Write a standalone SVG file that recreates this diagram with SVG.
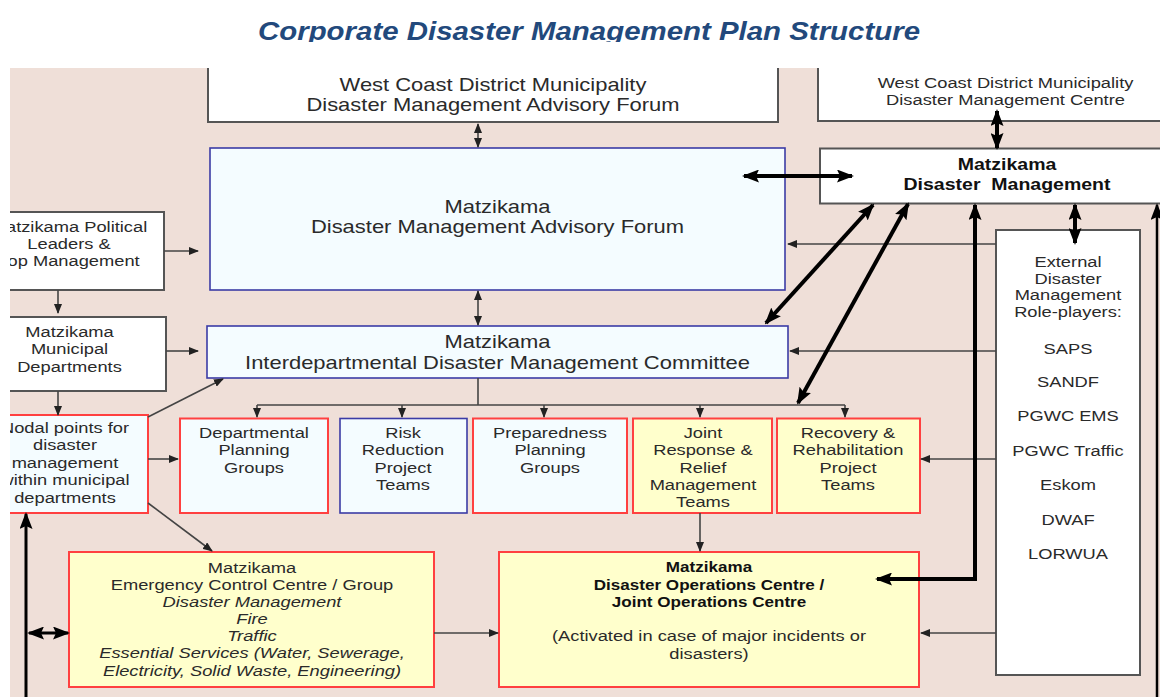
<svg xmlns="http://www.w3.org/2000/svg" width="1160" height="697" viewBox="0 0 1160 697">
<defs>
<style>
.t{font-family:"Liberation Sans",Arial,sans-serif;fill:#2a2a2a;text-anchor:middle}
.s18{font-size:18px}.s16{font-size:16px}.s15{font-size:15px}.s14{font-size:14px}
.b{font-weight:bold;fill:#111}.i{font-style:italic}
.wb{fill:#fff;stroke:#555;stroke-width:2}
.cb{fill:#f4fcff;stroke:#3b3ba6;stroke-width:1.6}
.cr{fill:#f4fcff;stroke:#ff4040;stroke-width:2}
.yr{fill:#ffffcc;stroke:#ff4040;stroke-width:2}
.thin{fill:none;stroke:#444;stroke-width:1.6}
.thick{fill:none;stroke:#000;stroke-width:4}
</style>
<marker id="a" viewBox="0 0 10 8" refX="9" refY="4" markerWidth="10" markerHeight="8" markerUnits="userSpaceOnUse" orient="auto-start-reverse"><path d="M0,0 L10,4 L0,8 z" fill="#222"/></marker>
<marker id="A" viewBox="0 0 17 13" refX="15" refY="6.5" markerWidth="17" markerHeight="13" markerUnits="userSpaceOnUse" orient="auto-start-reverse"><path d="M0,0 L17,6.5 L0,13 L3,6.5 z" fill="#000"/></marker>
<clipPath id="panel"><rect x="10" y="68" width="1150" height="629"/></clipPath>
<clipPath id="tclip"><rect x="0" y="0" width="1160" height="42"/></clipPath>
</defs>
<rect width="1160" height="697" fill="#fff"/>
<g clip-path="url(#tclip)">
<text x="589" y="40" textLength="662" lengthAdjust="spacingAndGlyphs" style="font-family:'Liberation Sans',Arial,sans-serif;font-size:26px;font-weight:bold;font-style:italic;fill:#22497c;text-anchor:middle">Corporate Disaster Management Plan Structure</text>
</g>
<g clip-path="url(#panel)">
<rect x="10" y="68" width="1150" height="629" fill="#efdfd8"/>

<g id="wcd-forum">
<rect class="wb" x="208" y="40" width="570" height="82"/>
<text class="t s18" transform="translate(493 0) scale(1.22 1)"><tspan x="0" y="91">West Coast District Municipality</tspan><tspan x="0" y="111">Disaster Management Advisory Forum</tspan></text>
</g>
<g id="wcd-centre">
<rect class="wb" x="818" y="40" width="400" height="81"/>
<text class="t s15" transform="translate(1005.5 0) scale(1.22 1)"><tspan x="0" y="88">West Coast District Municipality</tspan><tspan x="0" y="105">Disaster Management Centre</tspan></text>
</g>
<g id="matzikama-dm">
<rect class="wb" x="820" y="148.5" width="400" height="55"/>
<text class="t s16 b" xml:space="preserve" transform="translate(1007 0) scale(1.22 1)"><tspan x="0" y="170">Matzikama</tspan><tspan x="0" y="190">Disaster  Management</tspan></text>
</g>
<g id="advisory-forum">
<rect class="cb" x="210" y="148" width="575" height="142"/>
<text class="t s18" transform="translate(497.5 0) scale(1.22 1)"><tspan x="0" y="213">Matzikama</tspan><tspan x="0" y="233">Disaster Management Advisory Forum</tspan></text>
</g>
<g id="political">
<rect class="wb" x="-40" y="212" width="204" height="78"/>
<text class="t s15" transform="translate(69 0) scale(1.22 1)"><tspan x="0" y="232">Matzikama Political</tspan><tspan x="0" y="249">Leaders &amp;</tspan><tspan x="0" y="266">Top Management</tspan></text>
</g>
<g id="municipal">
<rect class="wb" x="-40" y="317" width="206" height="74"/>
<text class="t s15" transform="translate(69.5 0) scale(1.22 1)"><tspan x="0" y="337">Matzikama</tspan><tspan x="0" y="354.5">Municipal</tspan><tspan x="0" y="372">Departments</tspan></text>
</g>
<g id="interdept">
<rect class="cb" x="207" y="326" width="581" height="52"/>
<text class="t s18" transform="translate(497.5 0) scale(1.22 1)"><tspan x="0" y="348">Matzikama</tspan><tspan x="0" y="369">Interdepartmental Disaster Management Committee</tspan></text>
</g>
<g id="nodal">
<rect class="cr" x="-40" y="415" width="188" height="98"/>
<text class="t s15" transform="translate(65 0) scale(1.22 1)"><tspan x="0" y="433">Nodal points for</tspan><tspan x="0" y="450.5">disaster</tspan><tspan x="0" y="468">management</tspan><tspan x="0" y="485.5">within municipal</tspan><tspan x="0" y="503">departments</tspan></text>
</g>
<g id="dept-planning">
<rect class="cr" x="180" y="418.5" width="148" height="94.5"/>
<text class="t s15" transform="translate(254 0) scale(1.22 1)"><tspan x="0" y="438">Departmental</tspan><tspan x="0" y="455.5">Planning</tspan><tspan x="0" y="473">Groups</tspan></text>
</g>
<g id="risk-reduction">
<rect class="cb" x="340" y="418.5" width="127" height="94.5"/>
<text class="t s15" transform="translate(403 0) scale(1.22 1)"><tspan x="0" y="438">Risk</tspan><tspan x="0" y="455.5">Reduction</tspan><tspan x="0" y="473">Project</tspan><tspan x="0" y="490.5">Teams</tspan></text>
</g>
<g id="preparedness">
<rect class="cr" x="473" y="418.5" width="154" height="94.5"/>
<text class="t s15" transform="translate(550 0) scale(1.22 1)"><tspan x="0" y="438">Preparedness</tspan><tspan x="0" y="455.5">Planning</tspan><tspan x="0" y="473">Groups</tspan></text>
</g>
<g id="joint-response">
<rect class="yr" x="633" y="418.5" width="139" height="94.5"/>
<text class="t s15" transform="translate(703 0) scale(1.22 1)"><tspan x="0" y="438">Joint</tspan><tspan x="0" y="455.5">Response &amp;</tspan><tspan x="0" y="473">Relief</tspan><tspan x="0" y="490.5">Management</tspan><tspan x="0" y="507">Teams</tspan></text>
</g>
<g id="recovery">
<rect class="yr" x="777" y="418.5" width="143" height="94.5"/>
<text class="t s15" transform="translate(848 0) scale(1.22 1)"><tspan x="0" y="438">Recovery &amp;</tspan><tspan x="0" y="455.5">Rehabilitation</tspan><tspan x="0" y="473">Project</tspan><tspan x="0" y="490.5">Teams</tspan></text>
</g>
<g id="external">
<rect class="wb" x="996" y="230" width="144" height="445"/>
<text class="t s15" transform="translate(1068 0) scale(1.22 1)"><tspan x="0" y="267">External</tspan><tspan x="0" y="283.7">Disaster</tspan><tspan x="0" y="300.4">Management</tspan><tspan x="0" y="317">Role-players:</tspan><tspan x="0" y="354">SAPS</tspan><tspan x="0" y="387.5">SANDF</tspan><tspan x="0" y="421.5">PGWC EMS</tspan><tspan x="0" y="456">PGWC Traffic</tspan><tspan x="0" y="490.5">Eskom</tspan><tspan x="0" y="525">DWAF</tspan><tspan x="0" y="559.5">LORWUA</tspan></text>
</g>
<g id="ecc">
<rect class="yr" x="69" y="552" width="365" height="135"/>
<text class="t s15" transform="translate(252 0) scale(1.22 1)"><tspan x="0" y="573">Matzikama</tspan><tspan x="0" y="590">Emergency Control Centre / Group</tspan><tspan class="i" x="0" y="607">Disaster Management</tspan><tspan class="i" x="0" y="624">Fire</tspan><tspan class="i" x="0" y="641">Traffic</tspan><tspan class="i" x="0" y="658">Essential Services (Water, Sewerage,</tspan><tspan class="i" x="0" y="676">Electricity, Solid Waste, Engineering)</tspan></text>
</g>
<g id="doc">
<rect class="yr" x="499" y="552" width="420" height="135"/>
<text class="t s14 b" transform="translate(709 0) scale(1.22 1)"><tspan x="0" y="572">Matzikama</tspan><tspan x="0" y="590">Disaster Operations Centre /</tspan><tspan x="0" y="607.5">Joint Operations Centre</tspan></text>
<text class="t s15" transform="translate(709 0) scale(1.22 1)"><tspan x="0" y="641.5">(Activated in case of major incidents or</tspan><tspan x="0" y="659">disasters)</tspan></text>
</g>

<g id="connectors">
<line class="thin" x1="478" y1="124" x2="478" y2="147" marker-start="url(#a)" marker-end="url(#a)"/>
<line class="thin" x1="478" y1="291" x2="478" y2="325" marker-start="url(#a)" marker-end="url(#a)"/>
<line class="thick" x1="744" y1="176" x2="852" y2="176" marker-start="url(#A)" marker-end="url(#A)"/>
<line class="thick" x1="997" y1="111" x2="997" y2="148" marker-start="url(#A)" marker-end="url(#A)"/>
<line class="thick" x1="1075" y1="205" x2="1075" y2="243" marker-start="url(#A)" marker-end="url(#A)"/>
<line class="thick" x1="1157" y1="205" x2="1157" y2="700" marker-start="url(#A)" style="stroke-width:2.5"/>
<line class="thin" x1="996" y1="244" x2="788" y2="244" marker-end="url(#a)"/>
<line class="thin" x1="996" y1="351" x2="790" y2="351" marker-end="url(#a)"/>
<line class="thin" x1="996" y1="459" x2="921" y2="459" marker-end="url(#a)"/>
<line class="thin" x1="996" y1="633" x2="921" y2="633" marker-end="url(#a)"/>
<line class="thick" x1="873" y1="205" x2="766" y2="323" marker-start="url(#A)" marker-end="url(#A)"/>
<line class="thick" x1="908" y1="204" x2="798" y2="403" marker-start="url(#A)" marker-end="url(#A)"/>
<polyline class="thick" points="975,205 975,579 877,579" marker-start="url(#A)" marker-end="url(#A)"/>
<line class="thin" x1="164" y1="251" x2="198" y2="251" marker-end="url(#a)"/>
<line class="thin" x1="58" y1="290" x2="58" y2="313" marker-end="url(#a)"/>
<line class="thin" x1="166" y1="351" x2="198" y2="351" marker-end="url(#a)"/>
<line class="thin" x1="58" y1="391" x2="58" y2="415" marker-end="url(#a)"/>
<line class="thin" x1="148" y1="417" x2="223" y2="379" marker-end="url(#a)"/>
<line class="thin" x1="148" y1="459" x2="178" y2="459" marker-end="url(#a)"/>
<line class="thin" x1="148" y1="503" x2="212" y2="551" marker-end="url(#a)"/>
<polyline class="thin" points="478,378 478,405"/>
<polyline class="thin" points="257,405 845,405"/>
<line class="thin" x1="257" y1="405" x2="257" y2="417" marker-end="url(#a)"/>
<line class="thin" x1="402" y1="405" x2="402" y2="417" marker-end="url(#a)"/>
<line class="thin" x1="544" y1="405" x2="544" y2="417" marker-end="url(#a)"/>
<line class="thin" x1="700" y1="405" x2="700" y2="417" marker-end="url(#a)"/>
<line class="thin" x1="845" y1="405" x2="845" y2="417" marker-end="url(#a)"/>
<line class="thin" x1="700" y1="513" x2="700" y2="551" marker-end="url(#a)"/>
<line class="thin" x1="434" y1="633" x2="498" y2="633" marker-end="url(#a)"/>
<line class="thick" x1="26" y1="700" x2="26" y2="514" marker-end="url(#A)" style="stroke-width:3"/>
<line class="thick" x1="29" y1="633" x2="68" y2="633" marker-start="url(#A)" marker-end="url(#A)" style="stroke-width:3"/>
</g>
</g>
</svg>
